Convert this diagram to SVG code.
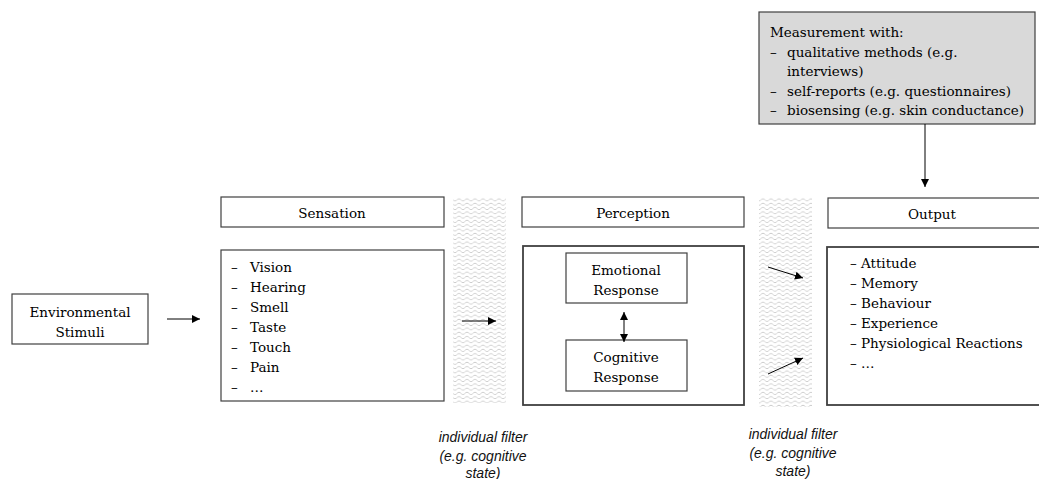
<svg xmlns="http://www.w3.org/2000/svg" width="1039" height="479" viewBox="0 0 1039 479">
<style>
.box{fill:#fff;stroke:#404040;stroke-width:1.2}
.thick{stroke-width:1.8}
.t{font-family:"DejaVu Serif","Liberation Serif",serif;font-size:13.5px;fill:#000}
.c{text-anchor:middle}
.it{font-family:"Liberation Sans",sans-serif;font-style:italic;font-size:14px;fill:#111;text-anchor:middle}
.ln{stroke:#000;stroke-width:1;fill:none}
</style>
<defs>
<pattern id="wave" x="0" y="0" width="8" height="4.3" patternUnits="userSpaceOnUse">
<path d="M0,3 L2,1.2 L4,1.2 L6,3 L8,3" fill="none" stroke="#9a9a9a" stroke-width="0.8" stroke-dasharray="1 0.6"/>
</pattern>
<marker id="ah" viewBox="0 0 10 10" refX="10" refY="5" markerWidth="8" markerHeight="8" markerUnits="userSpaceOnUse" orient="auto-start-reverse">
<path d="M0,0 L10,5 L0,10 z" fill="#000"/>
</marker>
</defs>

<g id="measurement">
<rect x="759" y="12" width="276" height="112" fill="#d9d9d9" stroke="#404040" stroke-width="1.2"/>
<text class="t" x="770" y="37">Measurement with:</text>
<text class="t" x="770" y="57">–</text><text class="t" x="787" y="57">qualitative methods (e.g.</text>
<text class="t" x="787" y="76">interviews)</text>
<text class="t" x="770" y="96">–</text><text class="t" x="787" y="96">self-reports (e.g. questionnaires)</text>
<text class="t" x="770" y="115">–</text><text class="t" x="787" y="115">biosensing (e.g. skin conductance)</text>
</g>

<g id="env">
<rect class="box" x="12" y="294" width="136" height="50"/>
<text class="t c" x="80" y="317">Environmental</text>
<text class="t c" x="80" y="337">Stimuli</text>
</g>

<g id="sensation-header">
<rect class="box" x="221" y="197" width="223" height="30"/>
<text class="t c" x="332" y="218">Sensation</text>
</g>
<g id="sensation-list">
<rect class="box" x="221" y="250" width="223" height="151"/>
<g class="t">
<text x="231" y="272">–</text><text x="250" y="272">Vision</text>
<text x="231" y="292">–</text><text x="250" y="292">Hearing</text>
<text x="231" y="312">–</text><text x="250" y="312">Smell</text>
<text x="231" y="332">–</text><text x="250" y="332">Taste</text>
<text x="231" y="352">–</text><text x="250" y="352">Touch</text>
<text x="231" y="372">–</text><text x="250" y="372">Pain</text>
<text x="231" y="392">–</text><text x="250" y="392">…</text>
</g>
</g>

<g id="filter1">
<rect x="453" y="197" width="53" height="206" fill="url(#wave)"/>
<text class="it" x="483" y="442">individual filter</text>
<text class="it" x="483" y="461">(e.g. cognitive</text>
<text class="it" x="483" y="478">state)</text>
</g>

<g id="perception-header">
<rect class="box" x="522" y="197" width="222" height="30"/>
<text class="t c" x="633" y="218">Perception</text>
</g>
<g id="perception-list">
<rect class="box thick" x="523" y="246" width="221" height="159"/>
</g>
<g id="emotional">
<rect class="box" x="566" y="253" width="121" height="50"/>
<text class="t c" x="626" y="275">Emotional</text>
<text class="t c" x="626" y="295">Response</text>
</g>
<g id="cognitive">
<rect class="box" x="566" y="340" width="121" height="51"/>
<text class="t c" x="626" y="362">Cognitive</text>
<text class="t c" x="626" y="382">Response</text>
</g>

<g id="filter2">
<rect x="759" y="197" width="53" height="210" fill="url(#wave)"/>
<text class="it" x="793" y="439">individual filter</text>
<text class="it" x="793" y="458">(e.g. cognitive</text>
<text class="it" x="793" y="476">state)</text>
</g>

<g id="output-header">
<rect class="box" x="828" y="198" width="215" height="30"/>
<text class="t c" x="932" y="219">Output</text>
</g>
<g id="output-list">
<rect class="box thick" x="827" y="247" width="216" height="158"/>
<g class="t">
<text x="850" y="268">–</text><text x="861" y="268">Attitude</text>
<text x="850" y="288">–</text><text x="861" y="288">Memory</text>
<text x="850" y="308">–</text><text x="861" y="308">Behaviour</text>
<text x="850" y="328">–</text><text x="861" y="328">Experience</text>
<text x="850" y="348">–</text><text x="861" y="348">Physiological Reactions</text>
<text x="850" y="368">–</text><text x="861" y="368">…</text>
</g>
</g>

<g id="connectors">
<line class="ln" x1="925" y1="124" x2="925" y2="187" marker-end="url(#ah)"/>
<line class="ln" x1="167" y1="319" x2="200" y2="319" marker-end="url(#ah)"/>
<line class="ln" x1="462" y1="321" x2="496" y2="321" marker-end="url(#ah)"/>
<line class="ln" x1="624" y1="312" x2="624" y2="342" marker-start="url(#ah)" marker-end="url(#ah)"/>
<line class="ln" x1="768" y1="267" x2="803" y2="278" marker-end="url(#ah)"/>
<line class="ln" x1="768" y1="374" x2="803" y2="358" marker-end="url(#ah)"/>
</g>
</svg>
